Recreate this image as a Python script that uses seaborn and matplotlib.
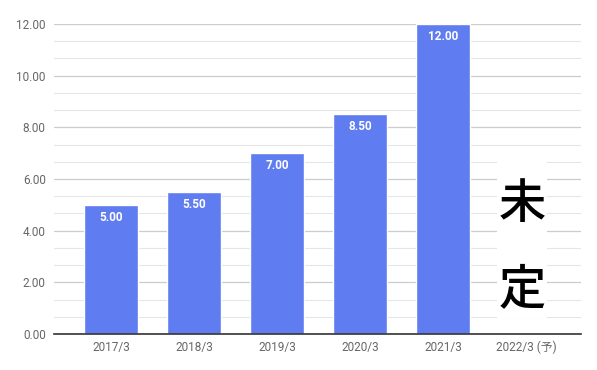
import numpy as np
import pandas as pd
import seaborn as sns
import matplotlib.pyplot as plt
from matplotlib.ticker import MultipleLocator

# data
categories = ['2017/3', '2018/3', '2019/3', '2020/3', '2021/3', '2022/3 (予)']
values = [5.00, 5.50, 7.00, 8.50, 12.00]
pending_label = '未定'

sns.set_theme(style='white')
plt.rcParams['font.family'] = ['Roboto', 'Noto Sans CJK JP', 'DejaVu Sans']

df = pd.DataFrame({'period': categories[:len(values)], 'value': values})

fig = plt.figure(figsize=(5.97, 3.70), dpi=100)
ax = fig.add_axes([54 / 597, 36 / 370, (581 - 54) / 597, (334 - 24) / 370])

sns.barplot(data=df, x='period', y='value', order=categories, color='#5f7cf0',
            saturation=1, width=0.65, ax=ax, zorder=3)

ax.set_ylim(0, 12)
ax.set_xlim(-0.687, 5.663)
ax.yaxis.set_major_locator(MultipleLocator(2))
ax.yaxis.set_minor_locator(MultipleLocator(2 / 3))
ax.grid(axis='y', which='major', color='#cccccc', linewidth=0.9, zorder=0)
ax.grid(axis='y', which='minor', color='#e6e6e6', linewidth=0.8, zorder=0)
ax.set_yticklabels(['{0:.2f}'.format(t) for t in ax.get_yticks()])

for s in ['top', 'right', 'left']:
    ax.spines[s].set_visible(False)
ax.spines['bottom'].set_color('#333333')
ax.spines['bottom'].set_linewidth(1.2)
ax.spines['bottom'].set_zorder(4)

ax.tick_params(axis='both', which='both', length=0, labelsize=8.5, labelcolor='#666666')
ax.tick_params(axis='y', pad=6)
ax.tick_params(axis='x', pad=5)
ax.set_xlabel('')
ax.set_ylabel('')

# value labels inside bar tops
for i, v in enumerate(values):
    ax.annotate('{0:.2f}'.format(v), (i, v), xytext=(0, -9), textcoords='offset points',
                ha='center', va='center', color='white', fontsize=8.5, fontweight='bold',
                zorder=5)

# "未定" box for the last period
idx = len(categories) - 1
ax.add_patch(plt.Rectangle((idx - 0.35, 0.62), 0.6, 6.12, facecolor='white',
                           edgecolor='none', zorder=2))
ax.text(idx - 0.05, 5.0, pending_label[0], ha='center', va='center', fontsize=34,
        fontweight='medium', color='black', family=['Noto Sans CJK JP'], zorder=5)
ax.text(idx - 0.05, 1.7, pending_label[1], ha='center', va='center', fontsize=34,
        fontweight='medium', color='black', family=['Noto Sans CJK JP'], zorder=5)

fig.savefig('out.png', dpi=100)
